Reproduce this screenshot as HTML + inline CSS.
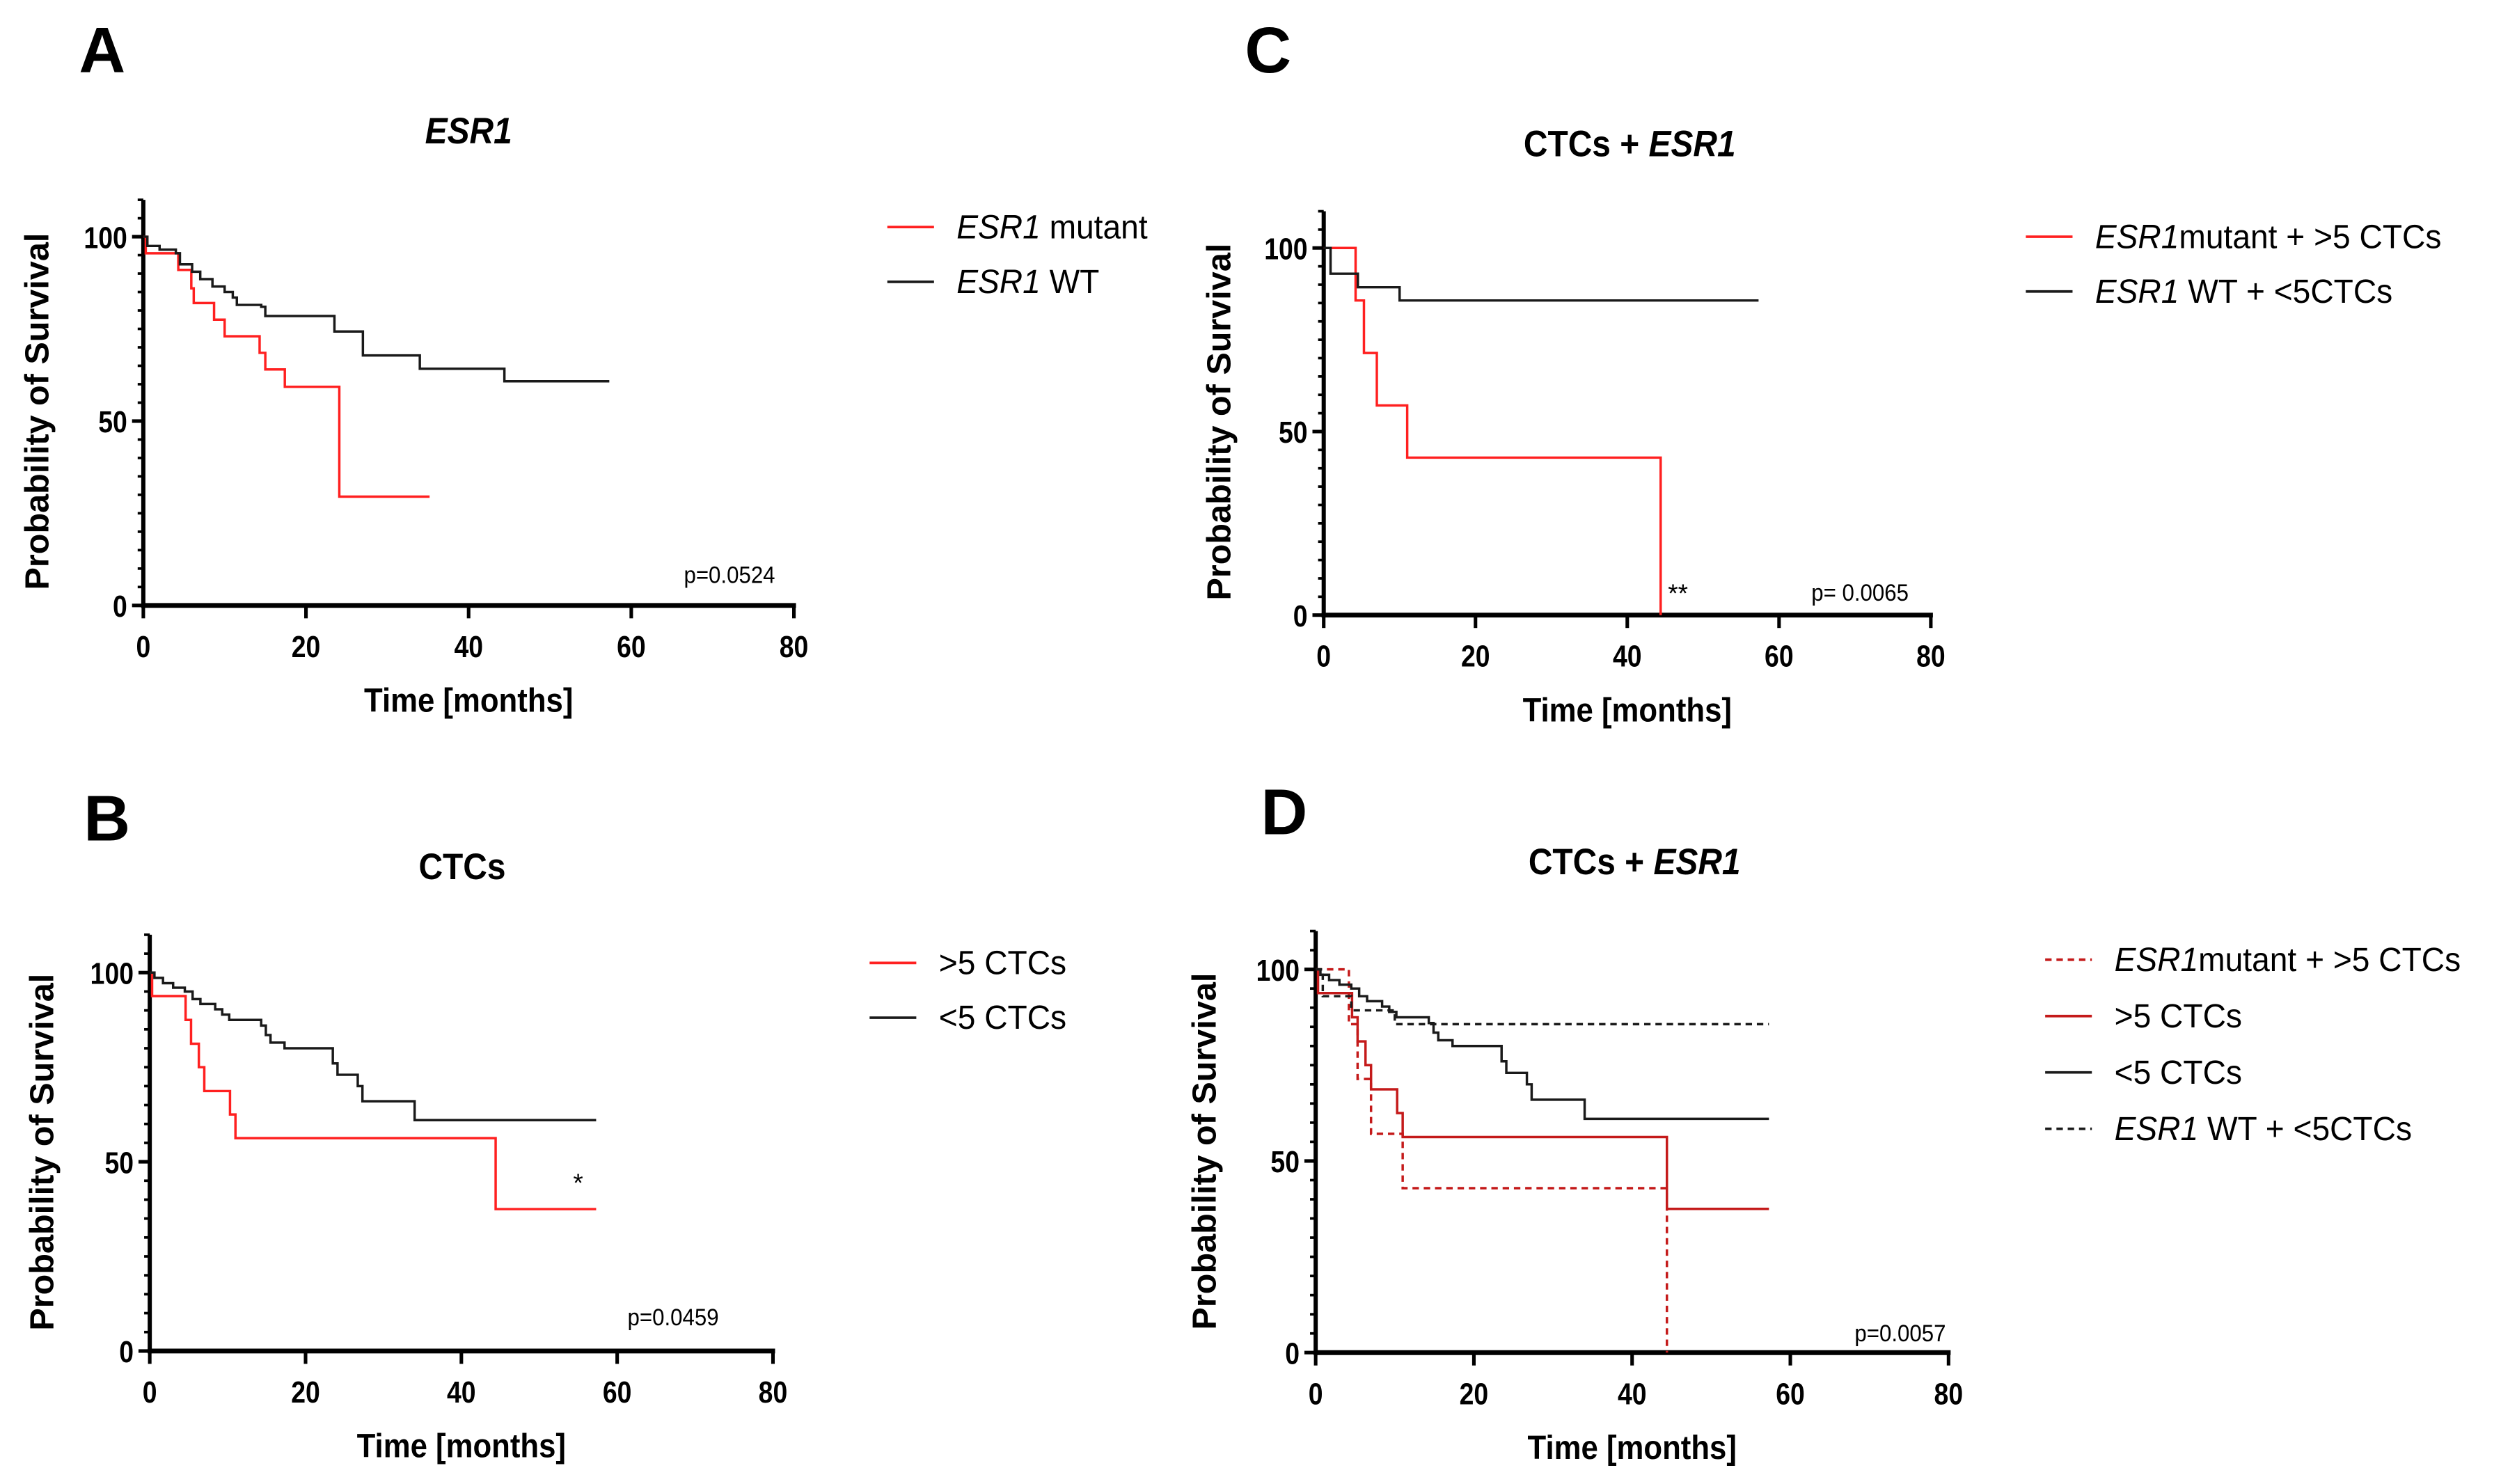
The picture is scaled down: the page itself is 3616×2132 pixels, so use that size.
<!DOCTYPE html>
<html><head><meta charset="utf-8">
<style>
html,body{margin:0;padding:0;background:#fff;}
svg{display:block;}
text{font-family:"Liberation Sans Narrow","Liberation Sans",sans-serif;}
.lab{font-family:"Liberation Sans",sans-serif;font-weight:bold;}
</style></head>
<body>
<svg id="fig" xmlns="http://www.w3.org/2000/svg" width="3616" height="2132" viewBox="0 0 1563 921.6" preserveAspectRatio="none"></svg>
<script>
// ---- data (months, survival %) ----
const xTicks = [0, 20, 40, 60, 80];
const yTicks = [0, 50, 100];
const aMutantT = [0, 0.3, 4.3, 5.9, 6.2, 8.7, 10, 14.3, 15, 17.4, 24.1];
const aMutantS = [100, 95.5, 91, 86, 82, 77.5, 73, 68.5, 64, 59.3, 29.5];
const aMutantEnd = 35.2;
const aWtT = [0, 0.5, 2, 4, 4.5, 6, 7, 8.5, 10, 11, 11.5, 14.5, 15, 23.5, 27, 34, 44.4];
const aWtS = [100, 97.5, 96.5, 95.5, 92.5, 90.5, 88.5, 86.5, 85, 83.5, 81.5, 81, 78.5, 74.3, 67.8, 64.2, 60.8];
const aWtEnd = 57.3;
const ctcHighT = [0, 0.3, 4.6, 5.3, 6.3, 7, 10.3, 11, 44.4];
const ctcHighS = [100, 93.8, 87.5, 81.2, 75, 68.7, 62.5, 56.25, 37.5];
const ctcHighEnd = 57.3;
const ctcLowT = [0, 0.6, 1.7, 3, 4.5, 5.5, 6.5, 8.4, 9.3, 10.2, 14.3, 14.9, 15.5, 17.3, 23.5, 24.1, 26.7, 27.3, 34];
const ctcLowS = [100, 98.6, 97.2, 96, 95, 93, 91.7, 90.3, 88.9, 87.5, 86, 83.5, 81.5, 80, 76, 73, 70, 66, 61];
const ctcLowEnd = 57.3;
const mutHighT = [0, 4.2, 5.3, 7, 11, 44.4];
const mutHighS = [100, 85.7, 71.4, 57.1, 42.9, 0];
const mutHighEnd = 44.4;
const wtLowT = [0, 0.9, 4.5, 10];
const wtLowS = [100, 93, 89.3, 85.7];
const wtLowEnd = 57.3;

const NS = "http://www.w3.org/2000/svg";
const svg = document.getElementById('fig');
function mk(tag, attrs, parent) {
  const e = document.createElementNS(NS, tag);
  for (const k in attrs) e.setAttribute(k, attrs[k]);
  (parent || svg).appendChild(e);
  return e;
}
function txt(str, x, y, size, opts, parent) {
  const t = mk('text', Object.assign({x: x, y: y, 'font-size': size}, opts || {}), parent);
  t.textContent = str;
  return t;
}
function sq(x, y, f) { return 'translate(' + x + ',' + y + ') scale(' + f + ',1) translate(' + (-x) + ',' + (-y) + ')'; }

function panel(p) {
  const g = mk('g', {});
  
  
  const sx = v => p.x0 + (v / 80) * (p.x80 - p.x0);
  const sy = v => p.y0 - (v / 100) * (p.y0 - p.y100);
  const L = txt(p.id, p.letterX, p.letterY, 40, {'class': 'lab'}, g);
  
  
  const T = mk('text', {x: p.titleX, y: p.titleY, 'font-size': 23, 'font-weight': 'bold', 'text-anchor': 'middle', transform: sq(p.titleX, p.titleY, 0.9)}, g);
  
  
  p.title.forEach(part => { const s = mk('tspan', part[1] ? {'font-style': 'italic'} : {}, T); s.textContent = part[0]; });
  const ax = mk('g', {stroke: '#000', fill: 'none'}, g);
  
  
  mk('line', {x1: p.x0, y1: sy(110), x2: p.x0, y2: p.y0 + 1.5, 'stroke-width': 2.6}, ax);
  mk('line', {x1: p.x0 - 1.3, y1: p.y0, x2: p.x80 + 1.3, y2: p.y0, 'stroke-width': 3}, ax);
  for (let v = 0; v <= 110; v += 5) {
    const major = yTicks.indexOf(v) >= 0;
    mk('line', {x1: p.x0 - (major ? 7 : 3.5), y1: sy(v), x2: p.x0, y2: sy(v), 'stroke-width': major ? 2.2 : 1.6}, ax);
  }
  xTicks.forEach(v => mk('line', {x1: sx(v), y1: p.y0, x2: sx(v), y2: p.y0 + 8, 'stroke-width': 2.2}, ax));
  yTicks.forEach(v => {
    const t = txt(String(v), p.x0 - 10, sy(v) + 7, 19, {'text-anchor': 'end', 'font-weight': 'bold', transform: sq(p.x0 - 10, sy(v), 0.85)}, g);
    
    
  });
  xTicks.forEach(v => {
    const t = txt(String(v), sx(v), p.y0 + 32, 19, {'text-anchor': 'middle', 'font-weight': 'bold', transform: sq(sx(v), p.y0, 0.85)}, g);
    
    
  });
  const xc = (p.x0 + p.x80) / 2;
  const xt = txt('Time [months]', xc, p.y0 + 66, 21, {'text-anchor': 'middle', 'font-weight': 'bold', transform: sq(xc, p.y0, 0.9)}, g);
  
  
  const yc = (p.y0 + p.y100) / 2 - 6;
  const yt = txt('Probability of Survival', 0, 0, 21, {'class': 'lab', 'text-anchor': 'middle', transform: 'translate(' + (p.ylabX + 1) + ',' + yc + ') rotate(-90)'}, g);
  
  
  p.series.forEach((s, i) => {
    let d = 'M' + sx(s.t[0]) + ',' + sy(s.s[0]);
    for (let k = 1; k < s.t.length; k++) {
      d += ' H' + sx(s.t[k]) + ' V' + sy(s.s[k]);
    }
    d += ' H' + sx(s.end);
    const path = mk('path', {d: d, fill: 'none', stroke: s.color, 'stroke-width': 1.5, 'stroke-dasharray': s.dash ? '4,3' : 'none'}, g);
    
    
    const ly = p.legY + i * p.legDy;
    const ll = mk('line', {x1: p.legX, y1: ly, x2: p.legX + 29, y2: ly, stroke: s.color, 'stroke-width': 1.6, 'stroke-dasharray': s.dash ? '4,3' : 'none'}, g);
    
    
    const lt = mk('text', {x: p.legX + 43, y: ly + 7, 'font-size': 21, transform: sq(p.legX + 43, ly, 0.95)}, g);
    
    
    s.label.forEach(part => { const sp = mk('tspan', part[1] ? {'font-style': 'italic'} : {}, lt); sp.textContent = part[0]; });
  });
  const pv = txt(p.pval, p.pX, p.pY, 15, {'text-anchor': 'middle', transform: sq(p.pX, p.pY, 0.9)}, g);
  
  
  if (p.star) {
    const st = txt(p.star, p.starX, p.starY, 16, {'text-anchor': 'middle'}, g);
    
    
  }
}

const RED = '#ff2020', DRED = '#c41a1a', BLK = '#1a1a1a';
panel({id: 'A', x0: 89, x80: 493, y0: 376, y100: 147, letterX: 49, letterY: 45, titleX: 291, titleY: 89,
  title: [['ESR1', true]], ylabX: 29, legX: 551, legY: 141, legDy: 34, pval: 'p=0.0524', pX: 453, pY: 362,
  series: [
    {key: 'esr1-mutant', t: aMutantT, s: aMutantS, end: aMutantEnd, color: RED, label: [['ESR1', true], [' mutant', false]]},
    {key: 'esr1-wt', t: aWtT, s: aWtS, end: aWtEnd, color: BLK, label: [['ESR1', true], [' WT', false]]}
  ]});
panel({id: 'B', x0: 93, x80: 480, y0: 839, y100: 604, letterX: 52, letterY: 522, titleX: 287, titleY: 546,
  title: [['CTCs', false]], ylabX: 32, legX: 540, legY: 598, legDy: 34, pval: 'p=0.0459', pX: 418, pY: 823,
  star: '*', starX: 359, starY: 740,
  series: [
    {key: 'ctc-high', t: ctcHighT, s: ctcHighS, end: ctcHighEnd, color: RED, label: [['>5 CTCs', false]]},
    {key: 'ctc-low', t: ctcLowT, s: ctcLowS, end: ctcLowEnd, color: BLK, label: [['<5 CTCs', false]]}
  ]});
panel({id: 'C', x0: 822, x80: 1199, y0: 382, y100: 154, letterX: 773, letterY: 45, titleX: 1012, titleY: 97,
  title: [['CTCs + ', false], ['ESR1', true]], ylabX: 763, legX: 1258, legY: 147, legDy: 34, pval: 'p= 0.0065', pX: 1155, pY: 373,
  star: '**', starX: 1042, starY: 374,
  series: [
    {key: 'mutant-high', t: mutHighT, s: mutHighS, end: mutHighEnd, color: RED, label: [['ESR1', true], ['mutant  + >5 CTCs', false]]},
    {key: 'wt-low', t: wtLowT, s: wtLowS, end: wtLowEnd, color: BLK, label: [['ESR1', true], [' WT + <5CTCs', false]]}
  ]});
panel({id: 'D', x0: 817, x80: 1210, y0: 840, y100: 602, letterX: 783, letterY: 518, titleX: 1015, titleY: 543,
  title: [['CTCs + ', false], ['ESR1', true]], ylabX: 754, legX: 1270, legY: 596, legDy: 35, pval: 'p=0.0057', pX: 1180, pY: 833,
  series: [
    {key: 'mutant-high', t: mutHighT, s: mutHighS, end: mutHighEnd, color: DRED, dash: true, label: [['ESR1', true], ['mutant  + >5 CTCs', false]]},
    {key: 'ctc-high', t: ctcHighT, s: ctcHighS, end: ctcHighEnd, color: DRED, label: [['>5 CTCs', false]]},
    {key: 'ctc-low', t: ctcLowT, s: ctcLowS, end: ctcLowEnd, color: BLK, label: [['<5 CTCs', false]]},
    {key: 'wt-low', t: wtLowT, s: wtLowS, end: wtLowEnd, color: BLK, dash: true, label: [['ESR1', true], [' WT + <5CTCs', false]]}
  ]});
</script>
</body></html>
